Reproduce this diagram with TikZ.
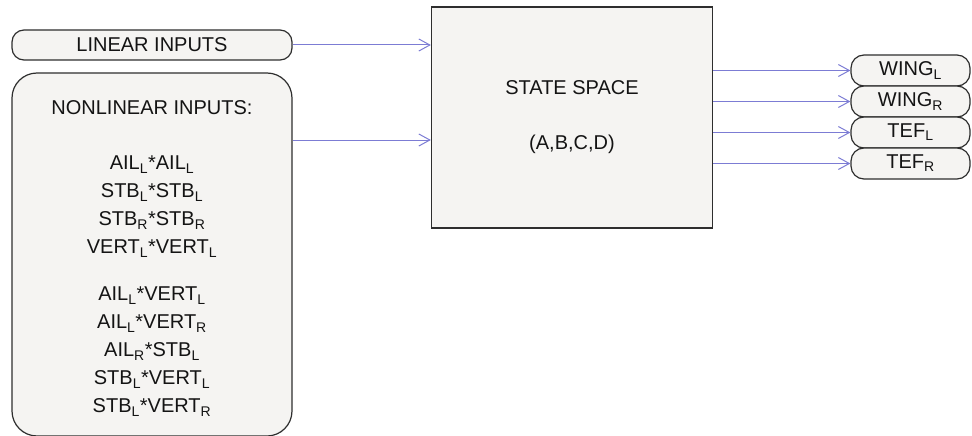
\documentclass[tikz,border=0pt]{standalone}
\usepackage{fontspec}
\setmainfont{Liberation Sans}
\usetikzlibrary{arrows.meta}
\definecolor{ink}{HTML}{141414}
\definecolor{edge}{HTML}{2E2E2E}
\definecolor{panel}{HTML}{F5F4F2}
\definecolor{wire}{HTML}{7C7CD4}
\newcommand{\lo}[1]{\textsubscript{#1}}
\tikzset{
  every node/.style = {font=\fontsize{20}{28}\selectfont, text=ink},
  ssbase/.style  = {draw=edge, line width=1.2pt, fill=panel, inner sep=0pt, align=center},
  ssin/.style    = {ssbase, minimum width=280pt, rounded corners=12pt},
  ssbig/.style   = {ssbase, minimum width=280pt, rounded corners=25pt},
  ssblock/.style = {ssbase, minimum width=281pt, minimum height=221pt},
  ssout/.style   = {ssbase, minimum width=119pt, minimum height=31pt, rounded corners=13pt},
  sswire/.style  = {-{Straight Barb[length=11pt,width=12pt]}, draw=wire, line width=1pt},
}
\begin{document}
\begin{tikzpicture}[x=1pt, y=-1pt]
\useasboundingbox (0,0) rectangle (972,436);

\node[ssin, minimum height=30pt] (lin) at (152,45) {LINEAR INPUTS};
\node[ssbig, minimum height=363pt] (nonlin) at (152,254.5) {};
\node[align=center, yshift=-4pt] (nonlintxt) at (nonlin.center)
  {NONLINEAR INPUTS:\\[27pt]
   AIL\lo{L}*AIL\lo{L}\\
   STB\lo{L}*STB\lo{L}\\
   STB\lo{R}*STB\lo{R}\\
   VERT\lo{L}*VERT\lo{L}\\[19pt]
   AIL\lo{L}*VERT\lo{L}\\
   AIL\lo{L}*VERT\lo{R}\\
   AIL\lo{R}*STB\lo{L}\\
   STB\lo{L}*VERT\lo{L}\\
   STB\lo{L}*VERT\lo{R}};

\node[ssblock] (ss) at (572,117.5) {STATE SPACE\\[27pt](A,B,C,D)};
\coordinate (nlin) at ([yshift=-22.5pt]ss.west);

\draw[sswire] (lin.east) -- (ss.west |- lin.east);
\draw[sswire] (nonlin.east |- nlin) -- (nlin);

% outputs
\foreach \name/\txt [count=\i] in {wl/WING\lo{L}, wr/WING\lo{R}, tl/TEF\lo{L}, tr/TEF\lo{R}}{
  \node[ssout] (\name) at (910.5,39.5+31*\i) {\txt};
  \draw[sswire] (ss.east |- \name.west) -- (\name.west);
}
\end{tikzpicture}
\end{document}
